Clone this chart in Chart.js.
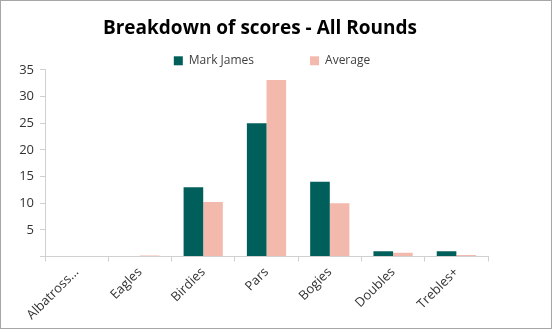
<!DOCTYPE html>
<html>
<head>
<meta charset="utf-8">
<script src="https://cdn.jsdelivr.net/npm/chart.js@4/dist/chart.umd.min.js"></script>
<style>
  html, body { margin: 0; padding: 0; background: #fff; }
  #wrap { width: 552px; height: 329px; box-sizing: border-box; border: 1px solid #a6a6a6; }
</style>
</head>
<body>
<div id="wrap"><canvas id="scoresChart" width="550" height="327"></canvas></div>
<script>
const categories = ['Albatross...', 'Eagles', 'Birdies', 'Pars', 'Bogies', 'Doubles', 'Trebles+'];
const markJames = [0, 0, 13, 25, 14, 1, 1];
const average = [0, 0.2, 10.2, 33.1, 10, 0.7, 0.3];
const yTicks = [0, 5, 10, 15, 20, 25, 30, 35];

const FONT = "'Open Sans', 'Noto Sans', sans-serif";
const axisGrey = '#d0d0d0';
const LEGEND_GAP = 56;

// the legend's label padding sets both the gap between items and the space above them,
// so give the legend a fixed height and draw it shifted up (and a bit to the right)
const legendTrim = {
  id: 'legendTrim',
  beforeInit(chart) {
    const legend = chart.legend;
    if (!legend) return;
    const fit = legend.fit;
    legend.fit = function () {
      fit.call(this);
      this.height = 26;
    };
    legend.draw = function () {
      if (!this.options.display) return;
      const c = this.ctx;
      c.save();
      c.translate(12, -45);
      this._draw();
      c.restore();
    };
  }
};

const ctx = document.getElementById('scoresChart').getContext('2d');
new Chart(ctx, {
  type: 'bar',
  data: {
    labels: categories,
    datasets: [{
      label: 'Mark James',
      data: markJames,
      backgroundColor: '#005f5a',
      categoryPercentage: 0.62,
      barPercentage: 1.0
    }, {
      label: 'Average',
      data: average,
      backgroundColor: '#f3b9ad',
      categoryPercentage: 0.62,
      barPercentage: 1.0
    }]
  },
  plugins: [legendTrim],
  options: {
    responsive: false,
    animation: false,
    layout: { padding: { left: 4, right: 36, top: 6, bottom: 2 } },
    plugins: {
      title: {
        display: true,
        text: 'Breakdown of scores - All Rounds',
        color: '#000',
        font: { family: FONT, size: 19, weight: 'bold' },
        padding: { top: 10, bottom: 4 }
      },
      legend: {
        position: 'top',
        labels: {
          boxWidth: 9,
          boxHeight: 9,
          color: '#404040',
          font: { family: FONT, size: 12 },
          padding: LEGEND_GAP
        }
      },
      tooltip: { enabled: false }
    },
    scales: {
      x: {
        grid: { display: true, drawOnChartArea: false, drawTicks: true, tickLength: 5, color: axisGrey },
        border: { color: axisGrey },
        ticks: {
          color: '#333',
          font: { family: FONT, size: 13 },
          maxRotation: 45,
          minRotation: 45
        }
      },
      y: {
        min: 0,
        max: 35,
        afterBuildTicks: scale => { scale.ticks = yTicks.map(v => ({ value: v })); },
        afterFit: scale => { scale.width = 40; },
        grid: { display: true, drawOnChartArea: false, drawTicks: true, tickLength: 5, color: axisGrey },
        border: { color: axisGrey },
        ticks: {
          color: '#333',
          font: { family: FONT, size: 13 },
          padding: 6,
          callback: v => (v === 0 ? '' : v)
        }
      },
      // empty right-hand axis: keeps the plot narrower than the title area
      yRight: {
        position: 'right',
        display: true,
        afterFit: scale => { scale.width = 27; },
        grid: { display: false },
        border: { display: false },
        ticks: { display: false }
      }
    }
  }
});
</script>
</body>
</html>
